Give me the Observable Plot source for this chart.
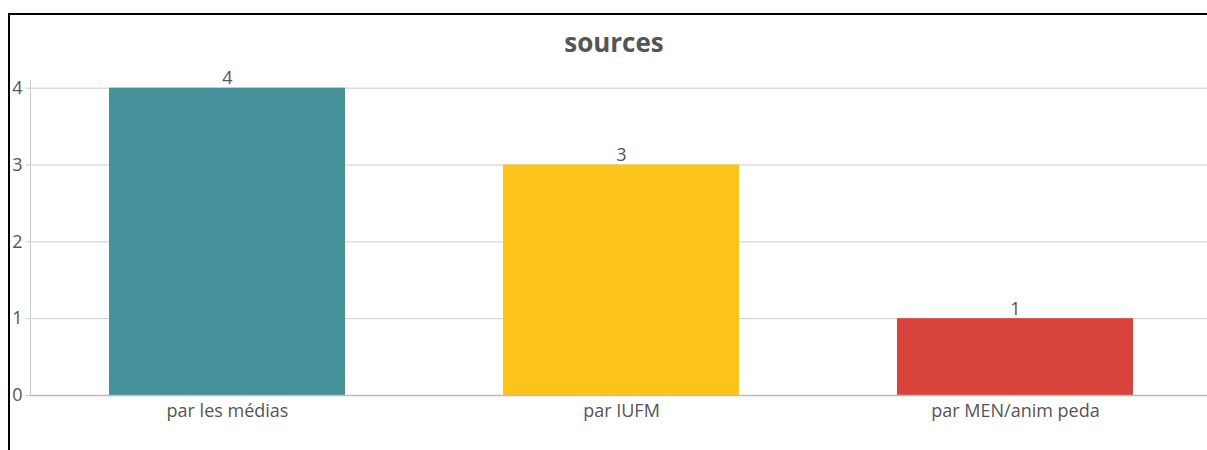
<!DOCTYPE html>
<html>
<head>
<meta charset="utf-8">
<script src="https://cdn.jsdelivr.net/npm/d3@7"></script>
<script src="https://cdn.jsdelivr.net/npm/@observablehq/plot@0.6"></script>
<style>
  html, body { margin: 0; padding: 0; background: #fff; overflow: hidden; width: 1207px; height: 450px; }
  #frame { position: absolute; left: 8px; top: 13px; width: 2000px; height: 1000px; border: 2px solid #000; box-sizing: border-box; }
  #title { position: absolute; left: 0; width: 1228px; top: 27px; line-height: 30px; text-align: center;
           font-family: "Open Sans", sans-serif; font-weight: bold; font-size: 26px; color: #555; }
  #chart { position: absolute; left: 0; top: 0; width: 1215px; }
</style>
</head>
<body>
<div id="frame"></div>
<div id="title">sources</div>
<div id="chart"></div>
<script>
const categories = ["par les médias", "par IUFM", "par MEN/anim peda"];
const values = [4, 3, 1];
const colors = ["#46929B", "#FCC419", "#D8433B"];
const yTicks = [0, 1, 2, 3, 4];

const data = categories.map((c, i) => ({cat: c, val: values[i]}));

const chart = Plot.plot({
  width: 1215,
  height: 450,
  marginLeft: 30,
  marginRight: 3,
  marginTop: 80,
  marginBottom: 55,
  style: {fontFamily: "'Open Sans', sans-serif", fontSize: "18px", color: "#555", background: "transparent", overflow: "visible", maxWidth: "none"},
  x: {domain: categories, paddingInner: 0.4, paddingOuter: 0.2, label: null},
  y: {domain: [0, 4.1], label: null},
  color: {domain: categories, range: colors},
  marks: [
    Plot.gridY(yTicks, {stroke: "#ccc", strokeOpacity: 1}),
    Plot.barY(data, {x: "cat", y: "val", fill: "cat"}),
    Plot.ruleY([0], {stroke: "#bbb", strokeWidth: 1.5}),
    Plot.frame({anchor: "left", stroke: "#ccc"}),
    Plot.axisY(yTicks, {tickSize: 4, tickPadding: 4, tickFormat: "d", stroke: "#ccc", fill: "#555", fontSize: 18, label: null}),
    Plot.axisX({tickSize: 0, tickPadding: 9, fill: "#555", fontSize: 18, label: null}),
    Plot.text(data, {x: "cat", y: "val", text: d => String(d.val), dy: -4, lineAnchor: "bottom", fill: "#555", fontSize: 18})
  ]
});
document.getElementById("chart").appendChild(chart);
</script>
</body>
</html>
